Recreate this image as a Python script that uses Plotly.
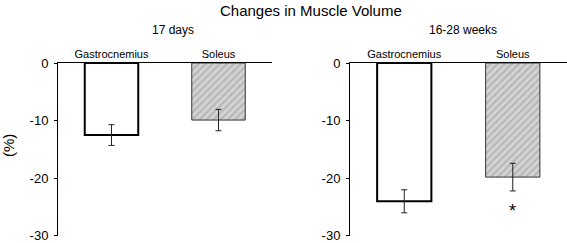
import plotly.graph_objects as go

categories = ["Gastrocnemius", "Soleus"]
days17_vals = [-12.5, -9.9]
days17_err = [1.8, 1.85]
weeks_vals = [-24.0, -19.8]
weeks_err = [2.0, 2.4]
panel_titles = ["17 days", "16-28 weeks"]
ytick_vals = [0, -10, -20, -30]
ytick_text = ["0", "-10", "-20", "-30"]

FONT = "Liberation Sans, Arial, sans-serif"
fig = go.Figure()

def add_panel(vals, errs, xa, ya):
    for i, (c, v, e) in enumerate(zip(categories, vals, errs)):
        if i == 0:
            marker = dict(color="white", line=dict(color="black", width=2))
        else:
            marker = dict(color="#d0d0d0", line=dict(color="#333", width=1),
                          pattern=dict(shape="/", fgcolor="#9a9a9a", bgcolor="#d4d4d4",
                                       size=5, solidity=0.45))
        fig.add_trace(go.Bar(x=[i], y=[v], width=0.5, marker=marker,
                             error_y=dict(type="data", array=[e], color="#222",
                                          thickness=1, width=3),
                             xaxis=xa, yaxis=ya, showlegend=False, hoverinfo="skip"))

add_panel(days17_vals, days17_err, "x", "y")
add_panel(weeks_vals, weeks_err, "x2", "y2")

W, H = 567, 243
T, B = 63, 7
PH = H - T - B

def py(p):
    return (H - B - p) / PH

xcommon = dict(range=[-0.5, 1.5], side="top", showline=True, linecolor="black",
               linewidth=1, ticks="", tickvals=[0, 1], ticktext=categories,
               tickfont=dict(size=11, family=FONT, color="black"), showgrid=False,
               zeroline=False, fixedrange=True, automargin=False)
ycommon = dict(range=[-30.02, 0], showline=True, linecolor="black", linewidth=1,
               ticks="outside", ticklen=3, tickcolor="black", tickvals=ytick_vals,
               ticktext=ytick_text, tickfont=dict(size=13, family=FONT, color="black"),
               ticklabelstandoff=3,
               showgrid=False, zeroline=False, automargin=False,
               ticklabeloverflow="allow", fixedrange=True)

fig.update_layout(
    width=W, height=H,
    margin=dict(l=0, r=0, t=T, b=B, autoexpand=False),
    plot_bgcolor="white", paper_bgcolor="white",
    xaxis=dict(xcommon, domain=[58 / W, 272 / W], anchor="y"),
    xaxis2=dict(xcommon, domain=[350 / W, 1.0], anchor="y2"),
    yaxis=dict(ycommon, anchor="x"),
    yaxis2=dict(ycommon, anchor="x2"),
    font=dict(family=FONT, color="black"),
)

ann = [
    dict(text="Changes in Muscle Volume", x=311 / W, y=py(11), xref="paper", yref="paper",
         showarrow=False, font=dict(size=15), xanchor="center", yanchor="middle"),
    dict(text=panel_titles[0], x=173 / W, y=py(30), xref="paper", yref="paper",
         showarrow=False, font=dict(size=12), xanchor="center", yanchor="middle"),
    dict(text=panel_titles[1], x=463 / W, y=py(30), xref="paper", yref="paper",
         showarrow=False, font=dict(size=12), xanchor="center", yanchor="middle"),
    dict(text="(%)", x=8 / W, y=py(146), xref="paper", yref="paper", textangle=-90,
         showarrow=False, font=dict(size=15), xanchor="center", yanchor="middle"),
    dict(text="*", x=1, y=weeks_vals[1] - weeks_err[1] - 3.4, xref="x2", yref="y2",
         showarrow=False, font=dict(size=18), xanchor="center", yanchor="middle"),
]
fig.update_layout(annotations=ann)

fig.write_html("out.html", config={"displayModeBar": False},
               post_script="document.body.style.margin='0';")
